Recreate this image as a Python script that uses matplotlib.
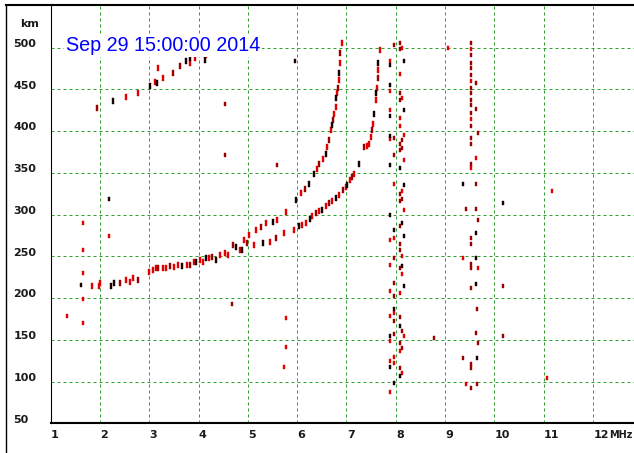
import numpy as np
import matplotlib
matplotlib.use("Agg")
import matplotlib.pyplot as plt
from matplotlib.lines import Line2D
from matplotlib.transforms import blended_transform_factory, ScaledTranslation

# ---------------- data: ionogram echoes (frequency MHz, virtual height km, colour code) ----------------
title_text = "Sep 29 15:00:00 2014"
x_ticks = list(range(1, 13))
y_ticks = list(range(50, 501, 50))

# low trace (common part and branch with cusp near 7.7 MHz)
low_f = [1.83, 1.97, 2.01, 2.23, 2.28, 2.40, 2.52, 2.60, 2.67, 2.78, 3.00, 3.07, 3.13, 3.17, 3.27,
         3.34, 3.43, 3.51, 3.59, 3.67, 3.76, 3.82, 3.90, 3.95, 4.02, 4.08, 4.15, 4.22, 4.28, 4.36,
         4.44, 4.53, 4.59, 4.69, 4.76, 4.83, 4.89, 4.93, 4.99, 5.13, 5.30, 5.44, 5.57, 5.74, 5.94,
         6.04, 6.10, 6.18, 6.25, 6.31, 6.38, 6.45, 6.51, 6.59, 6.65, 6.71, 6.79, 6.85, 6.92, 6.98,
         7.02, 7.08, 7.12, 7.16, 7.26, 7.36, 7.42, 7.46, 7.50, 7.52, 7.54, 7.56, 7.60, 7.60, 7.62,
         7.64, 7.64, 7.64, 7.67]
low_h = [215, 215, 218, 215, 218, 218, 222, 219, 224, 222, 231, 233, 236, 236, 236,
         236, 238, 237, 239, 238, 240, 239, 243, 243, 245, 243, 248, 248, 249, 245,
         251, 254, 251, 263, 261, 257, 257, 269, 266, 263, 266, 267, 272, 278, 281,
         286, 287, 290, 295, 298, 302, 304, 305, 310, 314, 316, 320, 323, 329, 333,
         335, 341, 345, 349, 361, 381, 382, 385, 393, 401, 409, 421, 437, 445, 452,
         464, 473, 481, 497]
low_c = "rrrkkdrrrdrrrdrrdrrkrdrkrrkrdkrrrdkrkrdrkrdrrkrrkrdrkrdrkrdrkrdrkdrrrdrkrkrdrkr"

# upper branch with cusp near 6.9 MHz
up_f = [5.03, 5.17, 5.27, 5.37, 5.50, 5.60, 5.77, 5.98, 6.08, 6.15, 6.23, 6.35, 6.41, 6.45, 6.53,
        6.59, 6.61, 6.65, 6.69, 6.71, 6.73, 6.75, 6.79, 6.79, 6.81, 6.83, 6.85, 6.85, 6.87, 6.87, 6.90]
up_h = [275, 281, 285, 290, 291, 293, 303, 317, 326, 331, 337, 349, 355, 361, 367,
        373, 381, 389, 401, 407, 413, 421, 429, 440, 446, 452, 461, 469, 481, 493, 505]
up_c = "rrdrkrrkrdkkrdrkrdrkdrrkrdrkrdr"

# multiple-hop echo, upper left
echo_f = [1.94, 2.26, 2.52, 2.78, 3.02, 3.12, 3.15, 3.17, 3.28, 3.48, 3.63, 3.75, 3.83, 3.83, 3.92, 4.14, 4.13]
echo_h = [428, 436, 441, 446, 454, 459, 457, 475, 463, 470, 478, 484, 481, 487, 487, 491, 485]
echo_c = "dkrrkrkrrddkrkrrk"

# spread echoes around 8 MHz
col8_f = [7.97, 8.09, 8.13, 8.09, 8.17, 7.88, 7.88, 8.09, 7.88, 7.88, 8.09, 8.13, 8.09, 8.17, 7.88,
          7.88, 8.09, 8.09, 7.88, 8.17, 7.88, 7.97, 8.13, 8.09, 8.13, 8.09, 7.97, 8.17, 7.88, 8.09,
          7.97, 8.17, 8.13, 8.09, 8.13, 8.09, 8.17, 7.88, 8.13, 8.09, 7.97, 8.17, 7.88, 7.97, 8.09,
          8.09, 8.13, 7.97, 7.88, 8.13, 8.09, 8.13, 7.97, 8.17, 7.88, 8.09, 7.97, 7.88, 7.97, 7.97,
          8.09, 7.97, 8.09, 8.13, 8.17, 7.88, 7.97, 7.88, 8.09, 8.09, 8.13, 7.97, 7.88, 7.97, 7.88,
          8.09, 8.13, 8.09, 7.97, 7.88]
col8_h = [503, 505, 500, 498, 484, 484, 479, 468, 455, 448, 446, 440, 437, 425, 425,
          418, 416, 406, 394, 395, 390, 392, 389, 385, 380, 377, 371, 365, 359, 356,
          337, 335, 328, 325, 319, 316, 305, 300, 290, 286, 281, 274, 269, 272, 265,
          257, 250, 248, 239, 238, 236, 229, 218, 214, 209, 206, 203, 179, 187, 182,
          177, 173, 166, 160, 154, 155, 157, 149, 146, 137, 140, 129, 125, 122, 118,
          116, 110, 107, 98, 88]
col8_c = "ddrdkrkrkrdrdkrkrrkrrddddddrkkrkrdddrkkdkkrrddrdrkdrdkrrdrkrddkdrkdrdrdrrrkdrkkr"

# spread echoes around 9.5 MHz
col95_f = [9.53, 9.53, 9.53, 9.53, 9.53, 9.53, 9.53, 9.62, 9.53, 9.53, 9.53, 9.53, 9.62, 9.53, 9.53,
           9.53, 9.67, 9.53, 9.53, 9.62, 9.53, 9.53, 9.37, 9.62, 9.42, 9.62, 9.67, 9.62, 9.53, 9.53,
           9.37, 9.62, 9.53, 9.53, 9.67, 9.62, 9.53, 9.64, 9.62, 9.67, 9.37, 9.64, 9.53, 9.53, 9.42,
           9.64, 9.53]
col95_h = [505, 498, 491, 482, 476, 467, 460, 458, 451, 446, 437, 431, 427, 422, 415,
           406, 398, 392, 385, 368, 361, 356, 337, 337, 307, 307, 294, 278, 272, 265,
           248, 248, 241, 236, 236, 217, 212, 187, 158, 146, 128, 128, 121, 116, 97,
           97, 92]
col95_c = "drddddrdddddddrddddrdrkddddkddrkddrkdddddkddrdd"

# isolated echoes
iso_f = [1.65, 1.65, 1.65, 1.62, 1.65, 1.33, 1.65, 2.18, 2.18, 4.53, 4.53, 5.60, 4.67, 5.78, 5.78,
         5.74, 5.96, 9.06, 10.18, 10.18, 10.18, 11.07, 11.16, 8.77]
iso_h = [290, 258, 230, 216, 199, 179, 170, 319, 274, 432, 371, 359, 193, 176, 141,
         117, 484, 500, 314, 214, 154, 104, 328, 152]
iso_c = "rrrkrrrkrddddrrrkrkddrrd"

palette = {"r": "#e20000", "d": "#9a0000", "k": "#160000"}

# ---------------- figure layout (pixel geometry) ----------------
W, H, DPI = 634, 453, 100
X0, X1, Y0, Y1 = 50.7, 634.0, 423.3, 5.0   # axes box in pixels (left, right, bottom, top)
PX_PER_MHZ, PX_PER_KM = 49.3, 0.835

fig = plt.figure(figsize=(W / DPI, H / DPI), dpi=DPI)
fig.patch.set_facecolor("white")
ax = fig.add_axes([X0 / W, 1 - Y0 / H, (X1 - X0) / W, (Y0 - Y1) / H])
ax.set_xlim(1, 1 + (X1 - X0) / PX_PER_MHZ)
ax.set_ylim(50, 50 + (Y0 - Y1) / PX_PER_KM)
ax.set_xticks([])
ax.set_yticks([])
for s in ("top", "right"):
    ax.spines[s].set_visible(False)
ax.spines["left"].set_linewidth(0.8)
ax.spines["bottom"].set_linewidth(1.5)

grid_col = "#2f9f2f"
for x in x_ticks[1:]:
    ax.axvline(x, color=grid_col, lw=0.72, ls=(0, (3, 3)), zorder=1)
for y in y_ticks[1:]:
    ax.axhline(y, color=grid_col, lw=0.72, ls=(0, (3, 3)), zorder=1)

# echo marks: small vertical bars
small_bar = [(-1.1, -1.6), (1.1, -1.6), (1.1, 1.6), (-1.1, 1.6), (-1.1, -1.6)]
tall_bar = [(-1.05, -3.0), (1.05, -3.0), (1.05, 3.0), (-1.05, 3.0), (-1.05, -3.0)]


def draw_echoes(fs, hs, cs, marker, ms):
    fs = np.asarray(fs, float)
    hs = np.asarray(hs, float)
    cs = np.array(list(cs))
    for code, col in palette.items():
        m = cs == code
        if m.any():
            ax.plot(fs[m], hs[m], ls="none", marker=marker, ms=ms,
                    mfc=col, mec=col, mew=0.3, zorder=4)


draw_echoes(low_f, low_h, low_c, tall_bar, 4.7)
draw_echoes(up_f, up_h, up_c, tall_bar, 4.7)
draw_echoes(echo_f, echo_h, echo_c, tall_bar, 4.2)
draw_echoes(col8_f, col8_h, col8_c, small_bar, 2.9)
draw_echoes(col95_f, col95_h, col95_c, small_bar, 2.9)
draw_echoes(iso_f, iso_h, iso_c, small_bar, 2.9)


def px(dx, dy):
    return ScaledTranslation(dx / DPI, dy / DPI, fig.dpi_scale_trans)


lab_kw = dict(fontsize=8, fontweight="bold", family="DejaVu Sans", color="#1a1a1a")

ytr = blended_transform_factory(fig.transFigure, ax.transData) + px(0, 3.7)
for v in y_ticks:
    ax.text(13.3 / W, v, str(v), transform=ytr, ha="left", va="center", **lab_kw)
fig.text(20 / W, 1 - 24.3 / H, "km", ha="left", va="center", **lab_kw)

xtr = blended_transform_factory(ax.transData, ax.transAxes) + px(0.3, -12)
for v in x_ticks:
    ax.text(v, 0, str(v), transform=xtr, ha="left", va="center", **lab_kw)
fig.text(609.5 / W, 1 - 435.5 / H, "MHz", ha="left", va="center",
         **{**lab_kw, "fontsize": 7.0})

# date stamp with a white box hiding the grid behind it
fig.text(65.7 / W, 1 - 50.7 / H, title_text, fontsize=14.2, family="Liberation Sans",
         color="#0000ff", ha="left", va="baseline", zorder=2,
         bbox=dict(facecolor="white", edgecolor="none", pad=1.5))

# outer frame
fig.add_artist(Line2D([6 / W, 1], [1 - 5 / H, 1 - 5 / H], transform=fig.transFigure,
                      color="black", lw=1.5))
fig.add_artist(Line2D([6 / W, 6 / W], [0, 1 - 5 / H], transform=fig.transFigure,
                      color="black", lw=1.0))

fig.savefig("out.png", dpi=DPI)
